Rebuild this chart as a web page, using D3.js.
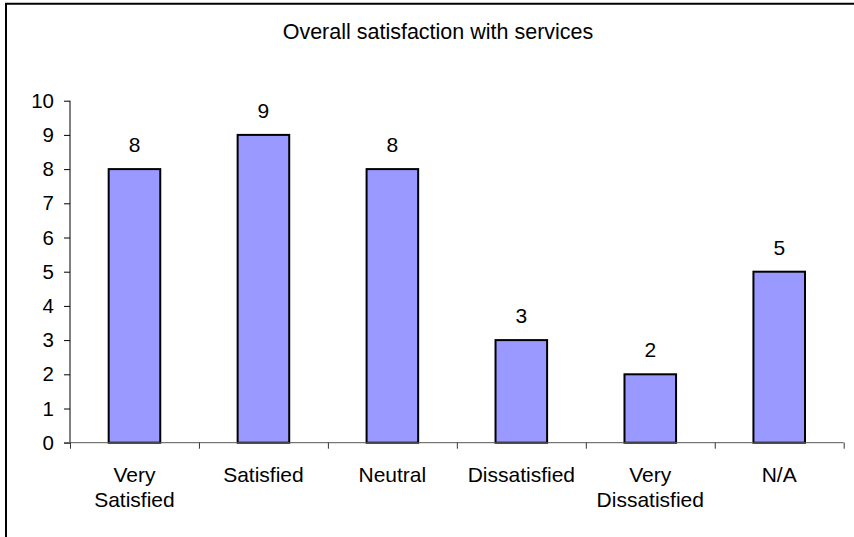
<!DOCTYPE html>
<html>
<head>
<meta charset="utf-8">
<script src="https://cdn.jsdelivr.net/npm/d3@7"></script>
<style>
  html, body { margin: 0; padding: 0; background: #fff; }
  svg { display: block; }
  text { font-family: "Liberation Sans", Arial, sans-serif; fill: #000; }
</style>
</head>
<body>
<svg id="chart" width="854" height="537"></svg>
<script>
// Survey responses: overall satisfaction with services
const categories = [["Very", "Satisfied"], ["Satisfied"], ["Neutral"], ["Dissatisfied"], ["Very", "Dissatisfied"], ["N/A"]];
const counts = [8, 9, 8, 3, 2, 5];
const yTicks = [0, 1, 2, 3, 4, 5, 6, 7, 8, 9, 10];
const title = "Overall satisfaction with services";

(function draw() {
  const svg = d3.select("#chart");
  const W = 854, H = 537;

  // chart frame (left and top edges visible)
  svg.append("line").attr("x1", 6).attr("x2", 6).attr("y1", 3).attr("y2", H)
    .attr("stroke", "#000").attr("stroke-width", 2);
  svg.append("line").attr("x1", 5).attr("x2", W).attr("y1", 3.7).attr("y2", 3.7)
    .attr("stroke", "#000").attr("stroke-width", 2);

  // plot area
  const pl = 70, pr = 843.7, pt = 100.7, pb = 442.7;

  const keys = categories.map(c => c.join(" "));
  const x = d3.scaleBand().domain(keys).range([pl, pr])
    .paddingInner(0.6).paddingOuter(0.3);
  const xEdges = d3.scaleLinear().domain([0, keys.length]).range([pl, pr]);
  const y = d3.scaleLinear().domain([0, 10]).range([pb, pt]);

  // title
  svg.append("text")
    .attr("x", 438).attr("y", 38.5)
    .attr("text-anchor", "middle")
    .attr("font-size", 21.5)
    .text(title);

  // bars
  svg.append("g").selectAll("rect")
    .data(counts)
    .join("rect")
    .attr("x", (d, i) => x(keys[i]))
    .attr("y", d => y(d))
    .attr("width", x.bandwidth())
    .attr("height", d => y(0) - y(d))
    .attr("fill", "#9999FF")
    .attr("stroke", "#000")
    .attr("stroke-width", 2);

  // value labels
  svg.append("g").selectAll("text")
    .data(counts)
    .join("text")
    .attr("x", (d, i) => x(keys[i]) + x.bandwidth() / 2)
    .attr("y", d => y(d) - 17)
    .attr("text-anchor", "middle")
    .attr("font-size", 21)
    .text(d => d);

  // y axis
  const yAxis = svg.append("g")
    .attr("transform", `translate(${pl},0)`)
    .call(d3.axisLeft(y).tickValues(yTicks).tickFormat(d3.format("d")).tickSize(6).tickPadding(10));
  yAxis.attr("font-family", null).attr("font-size", null);
  yAxis.select(".domain").attr("stroke", "#000").attr("d", `M0,${pb}V${pt}`);
  yAxis.selectAll(".tick line").attr("stroke", "#000");
  yAxis.selectAll(".tick text").attr("font-size", 20.5).attr("fill", "#000");

  // x axis: ticks on category boundaries
  const xAxis = svg.append("g")
    .attr("transform", `translate(0,${pb})`)
    .call(d3.axisBottom(xEdges).tickValues(d3.range(keys.length + 1)).tickFormat("").tickSize(6));
  xAxis.select(".domain").attr("stroke", "#555").attr("d", `M${pl - 6},0H${pr}`);
  xAxis.selectAll(".tick line").attr("stroke", "#333");

  // category labels
  const cat = svg.append("g").selectAll("text")
    .data(categories)
    .join("text")
    .attr("x", (d, i) => x(keys[i]) + x.bandwidth() / 2)
    .attr("y", 481.5)
    .attr("text-anchor", "middle")
    .attr("font-size", 21);
  cat.selectAll("tspan")
    .data(d => d)
    .join("tspan")
    .attr("x", function () { return this.parentNode.getAttribute("x"); })
    .attr("dy", (d, i) => i === 0 ? 0 : 25.7)
    .text(d => d);
})();
</script>
</body>
</html>
